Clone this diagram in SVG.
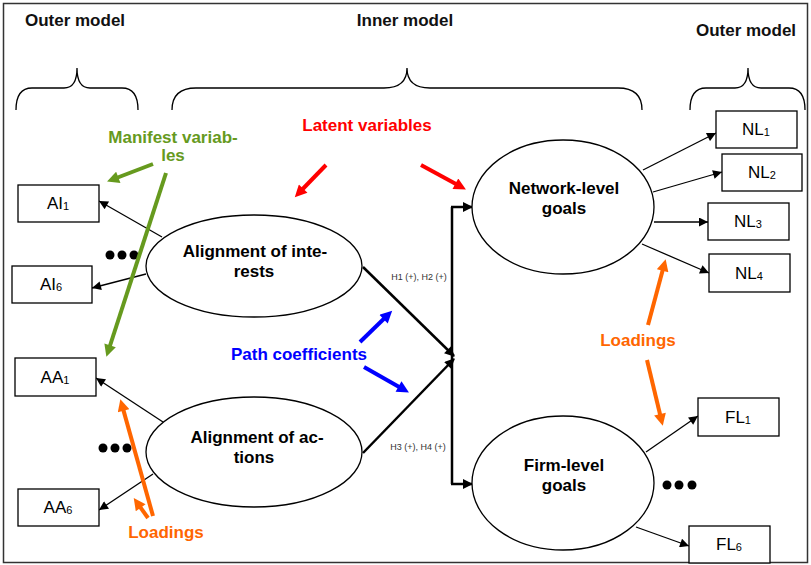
<svg xmlns="http://www.w3.org/2000/svg" width="811" height="565" viewBox="0 0 811 565">
<style>
.h{font-family:"Liberation Sans",Arial,sans-serif;font-weight:bold;font-size:17px;fill:#111;text-anchor:middle}
.lv{font-family:"Liberation Sans",Arial,sans-serif;font-weight:bold;font-size:17px;fill:#000;text-anchor:middle}
.bx{fill:#fff;stroke:#000;stroke-width:1.3}
.el{fill:#fff;stroke:#000;stroke-width:1.3}
.bt{font-family:"Liberation Sans",Arial,sans-serif;font-size:17px;fill:#000;text-anchor:middle}
.sub{font-size:11px}
.hl{font-family:"Liberation Sans",Arial,sans-serif;font-size:9px;fill:#333;text-anchor:middle}
.ln{stroke:#000;stroke-width:1.3;fill:none}
.pth{stroke:#000;stroke-width:2.5;fill:none}
.brace{stroke:#000;stroke-width:1.3;fill:none}
.green{fill:#669A1E}
.red{fill:#FF0000}
.blue{fill:#0000FF}
.orange{fill:#FF6600}
</style>
<defs>
<marker id="ah" viewBox="0 0 10 10" refX="10" refY="5" markerWidth="11" markerHeight="9" markerUnits="userSpaceOnUse" orient="auto"><path d="M0,0 L10,5 L0,10 z" fill="#000"/></marker>
<marker id="ahp" viewBox="0 0 10 10" refX="9" refY="5" markerWidth="12" markerHeight="10" markerUnits="userSpaceOnUse" orient="auto"><path d="M0,0 L10,5 L0,10 z" fill="#000"/></marker>
<marker id="ahg" viewBox="0 0 10 10" refX="4" refY="5" markerWidth="14" markerHeight="12" markerUnits="userSpaceOnUse" orient="auto"><path d="M0,0 L10,5 L0,10 z" fill="#669A1E"/></marker>
<marker id="ahr" viewBox="0 0 10 10" refX="4" refY="5" markerWidth="14" markerHeight="12" markerUnits="userSpaceOnUse" orient="auto"><path d="M0,0 L10,5 L0,10 z" fill="#FF0000"/></marker>
<marker id="ahb" viewBox="0 0 10 10" refX="4" refY="5" markerWidth="14" markerHeight="12" markerUnits="userSpaceOnUse" orient="auto"><path d="M0,0 L10,5 L0,10 z" fill="#0000FF"/></marker>
<marker id="aho" viewBox="0 0 10 10" refX="4" refY="5" markerWidth="14" markerHeight="12" markerUnits="userSpaceOnUse" orient="auto"><path d="M0,0 L10,5 L0,10 z" fill="#FF6600"/></marker>
</defs>
<rect x="0" y="0" width="811" height="565" fill="#fff"/>
<rect x="3.5" y="3.5" width="804" height="559" fill="none" stroke="#333" stroke-width="1.5"/>

<g id="headings">
<text class="h" x="75" y="26">Outer model</text>
<text class="h" x="405" y="26">Inner model</text>
<text class="h" x="746" y="36">Outer model</text>
</g>
<g id="braces">
<path class="brace" d="M16,110 Q16,88 32,88 L64,88 Q77,88 77,68 Q77,88 90,88 L122,88 Q138,88 138,110"/>
<path class="brace" d="M172,110 Q172,88 196,88 L384,88 Q407,88 407,68 Q407,88 430,88 L618,88 Q642,88 642,110"/>
<path class="brace" d="M690,110 Q690,88 706,88 L735,88 Q748,88 748,68 Q748,88 761,88 L789,88 Q805,88 805,110"/>
</g>

<g id="connectors">
<line class="ln" x1="162" y1="237" x2="99" y2="201" marker-end="url(#ah)"/>
<line class="ln" x1="146" y1="274" x2="92" y2="288" marker-end="url(#ah)"/>
<line class="ln" x1="163" y1="422" x2="96" y2="378" marker-end="url(#ah)"/>
<line class="ln" x1="153" y1="474" x2="99" y2="510" marker-end="url(#ah)"/>
<line class="ln" x1="643" y1="170" x2="716" y2="133" marker-end="url(#ah)"/>
<line class="ln" x1="653" y1="192" x2="722" y2="172" marker-end="url(#ah)"/>
<line class="ln" x1="654" y1="222" x2="708" y2="222" marker-end="url(#ah)"/>
<line class="ln" x1="642" y1="244" x2="709" y2="273" marker-end="url(#ah)"/>
<line class="ln" x1="646" y1="452" x2="698" y2="416" marker-end="url(#ah)"/>
<line class="ln" x1="636" y1="527" x2="689" y2="546" marker-end="url(#ah)"/>
<line class="pth" x1="363" y1="267" x2="454" y2="356" marker-end="url(#ahp)"/>
<line class="pth" x1="363" y1="453" x2="454" y2="359" marker-end="url(#ahp)"/>
<path class="pth" d="M452,207 L452,484"/>
<line class="pth" x1="451" y1="207" x2="472" y2="207" marker-end="url(#ahp)"/>
<line class="pth" x1="451" y1="484" x2="472" y2="484" marker-end="url(#ahp)"/>
<text class="hl" x="419" y="280">H1 (+), H2 (+)</text>
<text class="hl" x="418" y="450">H3 (+), H4 (+)</text>
</g>

<g id="node-ai1"><rect class="bx" x="18" y="185" width="81" height="37"/><text class="bt" x="58" y="209">AI<tspan class="sub" dy="1">1</tspan></text></g>
<g id="node-ai6"><rect class="bx" x="12" y="266" width="80" height="37"/><text class="bt" x="51" y="290">AI<tspan class="sub" dy="1">6</tspan></text></g>
<g id="node-aa1"><rect class="bx" x="15" y="358" width="81" height="38"/><text class="bt" x="55" y="383">AA<tspan class="sub" dy="1">1</tspan></text></g>
<g id="node-aa6"><rect class="bx" x="18" y="489" width="81" height="37"/><text class="bt" x="58" y="513">AA<tspan class="sub" dy="1">6</tspan></text></g>
<g id="node-nl1"><rect class="bx" x="716" y="111" width="81" height="37"/><text class="bt" x="756" y="135">NL<tspan class="sub" dy="1">1</tspan></text></g>
<g id="node-nl2"><rect class="bx" x="722" y="154" width="80" height="37"/><text class="bt" x="762" y="178">NL<tspan class="sub" dy="1">2</tspan></text></g>
<g id="node-nl3"><rect class="bx" x="708" y="203" width="81" height="37"/><text class="bt" x="748" y="227">NL<tspan class="sub" dy="1">3</tspan></text></g>
<g id="node-nl4"><rect class="bx" x="709" y="254" width="81" height="38"/><text class="bt" x="749" y="279">NL<tspan class="sub" dy="1">4</tspan></text></g>
<g id="node-fl1"><rect class="bx" x="698" y="398" width="81" height="38"/><text class="bt" x="738" y="423">FL<tspan class="sub" dy="1">1</tspan></text></g>
<g id="node-fl6"><rect class="bx" x="689" y="526" width="81" height="37"/><text class="bt" x="729" y="550">FL<tspan class="sub" dy="1">6</tspan></text></g>

<g id="node-interests"><ellipse class="el" cx="254" cy="266" rx="108" ry="51"/><text class="lv" x="255" y="257">Alignment of inte-</text><text class="lv" x="254" y="277">rests</text></g>
<g id="node-actions"><ellipse class="el" cx="254" cy="452" rx="108" ry="55"/><text class="lv" x="257" y="443">Alignment of ac-</text><text class="lv" x="254" y="463">tions</text></g>
<g id="node-network"><ellipse class="el" cx="563" cy="207" rx="91" ry="67"/><text class="lv" x="564" y="194">Network-level</text><text class="lv" x="564" y="214">goals</text></g>
<g id="node-firm"><ellipse class="el" cx="563" cy="483" rx="91" ry="67"/><text class="lv" x="564" y="471">Firm-level</text><text class="lv" x="564" y="491">goals</text></g>

<g id="dots">
<circle cx="110" cy="255" r="4.5"/><circle cx="122" cy="255" r="4.5"/><circle cx="134" cy="255" r="4.5"/>
<circle cx="103" cy="448" r="4.5"/><circle cx="115" cy="448" r="4.5"/><circle cx="127" cy="448" r="4.5"/>
<circle cx="667" cy="485" r="4.5"/><circle cx="679" cy="485" r="4.5"/><circle cx="692" cy="485" r="4.5"/>
</g>

<g id="annotations">
<text class="lv green" x="173" y="143">Manifest variab-</text>
<text class="lv green" x="173" y="161">les</text>
<line x1="153" y1="164" x2="113.8" y2="179" stroke="#669A1E" stroke-width="4" marker-end="url(#ahg)"/>
<line x1="166" y1="173" x2="108.6" y2="350" stroke="#669A1E" stroke-width="4" marker-end="url(#ahg)"/>
<text class="lv red" x="367" y="131">Latent variables</text>
<line x1="326" y1="165" x2="299.8" y2="192" stroke="#FF0000" stroke-width="4" marker-end="url(#ahr)"/>
<line x1="421" y1="165" x2="459.6" y2="186" stroke="#FF0000" stroke-width="4" marker-end="url(#ahr)"/>
<text class="lv blue" x="299" y="360">Path coefficients</text>
<line x1="360" y1="342" x2="387" y2="315.8" stroke="#0000FF" stroke-width="4" marker-end="url(#ahb)"/>
<line x1="364" y1="367" x2="402.7" y2="388.9" stroke="#0000FF" stroke-width="4" marker-end="url(#ahb)"/>
<text class="lv orange" x="166" y="538">Loadings</text>
<line x1="153" y1="516" x2="122.3" y2="406.1" stroke="#FF6600" stroke-width="4" marker-end="url(#aho)"/>
<line x1="148" y1="518" x2="137.9" y2="503.8" stroke="#FF6600" stroke-width="4" marker-end="url(#aho)"/>
<text class="lv orange" x="638" y="346">Loadings</text>
<line x1="648" y1="325" x2="663.8" y2="266.1" stroke="#FF6600" stroke-width="4" marker-end="url(#aho)"/>
<line x1="647" y1="360" x2="661.1" y2="418.8" stroke="#FF6600" stroke-width="4" marker-end="url(#aho)"/>
</g>
</svg>
